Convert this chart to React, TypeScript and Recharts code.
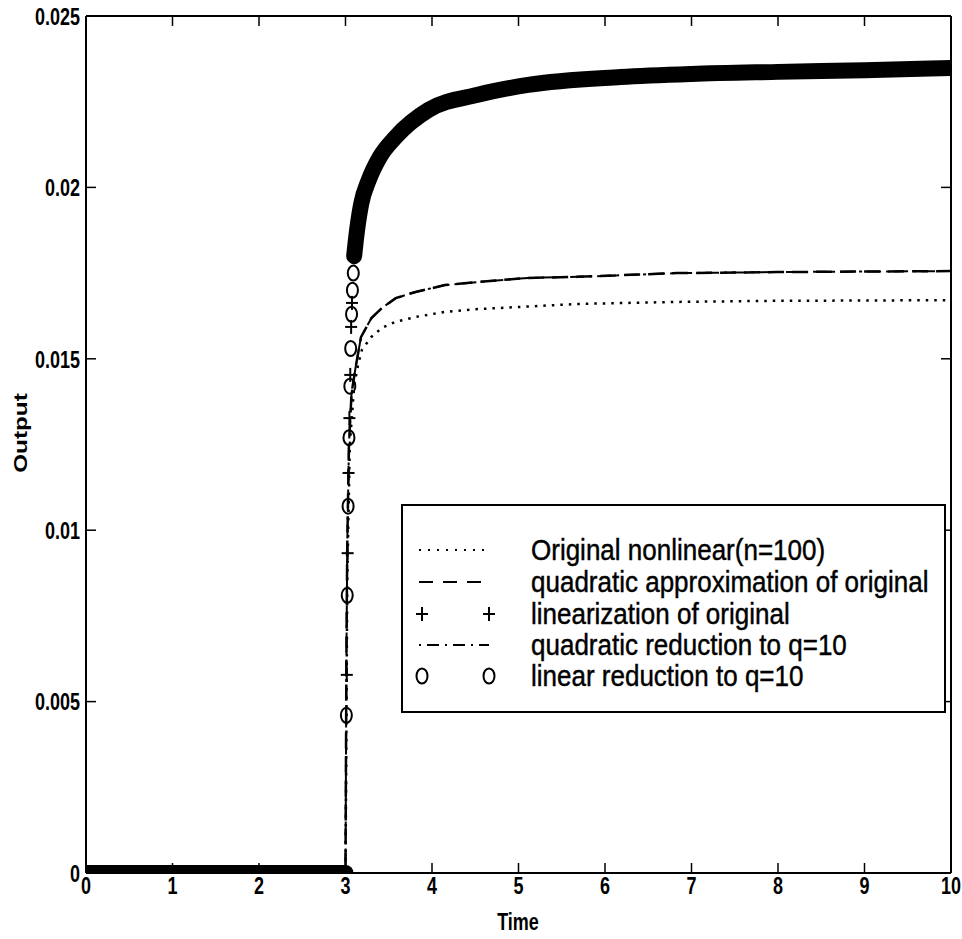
import { ComposedChart, Line, Scatter, XAxis, YAxis, Legend } from "recharts";

const FONT = "'Liberation Sans', Arial, Helvetica, sans-serif";

const TIME_TICKS = [0, 1, 2, 3, 4, 5, 6, 7, 8, 9, 10];
const OUTPUT_TICKS = [0, 0.005, 0.01, 0.015, 0.02, 0.025];

const LEGEND_LABELS = [
  "Original nonlinear(n=100)",
  "quadratic approximation of original",
  "linearization of original",
  "quadratic reduction to q=10",
  "linear reduction to q=10",
];

// Original nonlinear system (dotted)
const original = [
  { t: 0, v: 0 }, { t: 3, v: 0 }, { t: 3.01, v: 0.004 }, { t: 3.02, v: 0.0085 },
  { t: 3.05, v: 0.0125 }, { t: 3.1, v: 0.0142 }, { t: 3.15, v: 0.01488 }, { t: 3.19, v: 0.01526 },
  { t: 3.3, v: 0.01564 }, { t: 3.42, v: 0.0159 }, { t: 3.58, v: 0.01608 }, { t: 3.81, v: 0.01622 },
  { t: 4.15, v: 0.01637 }, { t: 4.53, v: 0.01645 }, { t: 5.68, v: 0.0166 }, { t: 6.84, v: 0.01666 },
  { t: 7.91, v: 0.01669 }, { t: 10, v: 0.01671 },
];

// quadratic approximation (dashed)
const quadApprox = [
  { t: 0, v: 0 }, { t: 3, v: 0 }, { t: 3.005, v: 0.003 }, { t: 3.01, v: 0.006 },
  { t: 3.02, v: 0.0095 }, { t: 3.04, v: 0.0125 }, { t: 3.07, v: 0.014 }, { t: 3.12, v: 0.0148 },
  { t: 3.18, v: 0.01564 }, { t: 3.3, v: 0.01619 }, { t: 3.42, v: 0.01648 }, { t: 3.58, v: 0.01677 },
  { t: 3.81, v: 0.01695 }, { t: 4.15, v: 0.01715 }, { t: 4.53, v: 0.01724 }, { t: 5.11, v: 0.01736 },
  { t: 5.68, v: 0.01739 }, { t: 6.84, v: 0.0175 }, { t: 7.99, v: 0.01753 }, { t: 10, v: 0.01756 },
];

// quadratic reduction q=10 (dash-dot)
const quadReduction = [
  { t: 0, v: 0 }, { t: 3, v: 0 }, { t: 3.005, v: 0.003 }, { t: 3.01, v: 0.006 },
  { t: 3.02, v: 0.0095 }, { t: 3.04, v: 0.0125 }, { t: 3.07, v: 0.014 }, { t: 3.12, v: 0.0148 },
  { t: 3.18, v: 0.01564 }, { t: 3.3, v: 0.01619 }, { t: 3.42, v: 0.01648 }, { t: 3.58, v: 0.01677 },
  { t: 3.81, v: 0.01695 }, { t: 4.15, v: 0.01715 }, { t: 4.53, v: 0.01724 }, { t: 5.11, v: 0.01736 },
  { t: 5.68, v: 0.01739 }, { t: 6.84, v: 0.0175 }, { t: 7.99, v: 0.01753 }, { t: 10, v: 0.01756 },
];

// linear reduction / linearization: markers so dense they merge into a thick band
const bandFlat = [{ t: 0, v: 0 }, { t: 3, v: 0 }];
const bandRise = [
  { t: 3.1, v: 0.018 }, { t: 3.12, v: 0.01847 }, { t: 3.18, v: 0.0195 }, { t: 3.27, v: 0.02022 },
  { t: 3.4, v: 0.0209 }, { t: 3.58, v: 0.02147 }, { t: 3.96, v: 0.02226 }, { t: 4.53, v: 0.0227 },
  { t: 5.11, v: 0.02299 }, { t: 6.18, v: 0.02322 }, { t: 7, v: 0.02331 }, { t: 8, v: 0.02337 },
  { t: 9, v: 0.02342 }, { t: 10, v: 0.02348 },
];

// separate markers on the steep rise
const linReductionRise = [
  { t: 3.01, v: 0.0046 }, { t: 3.02, v: 0.0081 }, { t: 3.03, v: 0.0107 }, { t: 3.04, v: 0.0127 },
  { t: 3.05, v: 0.0142 }, { t: 3.06, v: 0.0153 }, { t: 3.07, v: 0.0163 }, { t: 3.08, v: 0.017 },
  { t: 3.09, v: 0.0175 }, { t: 3.1, v: 0.018 },
];
const linearizationRise = [
  { t: 3.015, v: 0.00578 }, { t: 3.025, v: 0.00933 }, { t: 3.035, v: 0.01167 }, { t: 3.045, v: 0.01327 },
  { t: 3.055, v: 0.01453 }, { t: 3.065, v: 0.01593 }, { t: 3.075, v: 0.01663 },
];

const Ring = (p: any) => (
  <ellipse cx={p.cx} cy={p.cy} rx={5.5} ry={7.5} fill="none" stroke="#000" strokeWidth={2} />
);
const Plus = (p: any) => (
  <g stroke="#000" strokeWidth={2}>
    <line x1={p.cx - 6} x2={p.cx + 6} y1={p.cy} y2={p.cy} />
    <line x1={p.cx} x2={p.cx} y1={p.cy - 7} y2={p.cy + 7} />
  </g>
);

const TICK = 10;
const STRETCH = "scale(1,1.35)";

// MATLAB-style inward ticks, labels drawn tall and narrow like the scan
const BottomTick = (p: any) => (
  <g>
    <line x1={p.x} x2={p.x} y1={p.y - 3} y2={p.y - 3 - TICK} stroke="#000" strokeWidth={1.5} />
    <text transform={`translate(${p.x},${p.y}) ${STRETCH}`} textAnchor="middle" dy="0.75em"
      fontSize={18} fontWeight="bold" fontFamily={FONT} fill="#000">{p.payload.value}</text>
  </g>
);
const LeftTick = (p: any) => (
  <g>
    <line x1={p.x + 6} x2={p.x + 6 + TICK} y1={p.y} y2={p.y} stroke="#000" strokeWidth={1.5} />
    <text transform={`translate(${p.x},${p.y}) ${STRETCH}`} textAnchor="end" dy="0.36em"
      fontSize={18} fontWeight="bold" fontFamily={FONT} fill="#000">{p.payload.value}</text>
  </g>
);
const TopTick = (p: any) => (
  <line x1={p.x} x2={p.x} y1={p.y} y2={p.y + TICK} stroke="#000" strokeWidth={1.5} />
);
const RightTick = (p: any) => (
  <line x1={p.x} x2={p.x - TICK} y1={p.y} y2={p.y} stroke="#000" strokeWidth={1.5} />
);

function LegendBox() {
  const rowY = [44, 76, 108, 139, 170];
  return (
    <div style={{ width: 545, height: 209, border: "2px solid #000", background: "#fff", boxSizing: "border-box" }}>
      <svg width={541} height={205} style={{ display: "block" }}>
        <line x1={16} x2={86} y1={rowY[0]} y2={rowY[0]} stroke="#000" strokeWidth={2} strokeDasharray="2 7" />
        <line x1={16} x2={86} y1={rowY[1]} y2={rowY[1]} stroke="#000" strokeWidth={2} strokeDasharray="14 10" />
        <Plus cx={19} cy={rowY[2]} />
        <Plus cx={86} cy={rowY[2]} />
        <line x1={16} x2={86} y1={rowY[3]} y2={rowY[3]} stroke="#000" strokeWidth={2} strokeDasharray="2 6 12 6" />
        <Ring cx={19} cy={rowY[4]} />
        <Ring cx={86} cy={rowY[4]} />
        {LEGEND_LABELS.map((label, i) => (
          <text key={label} transform={`translate(128,${rowY[i]}) scale(1,1.1)`} dy="0.36em"
            fontSize={26} fontFamily={FONT} fill="#000" stroke="#000" strokeWidth={0.4}>
            {label}
          </text>
        ))}
      </svg>
    </div>
  );
}

export default function App() {
  return (
    <div style={{ position: "absolute", left: 0, top: 0, background: "#fff" }}>
      <ComposedChart width={962} height={939} margin={{ top: 15, right: 10, bottom: 0, left: 26 }}>
        <XAxis
          dataKey="t" type="number" domain={[0, 10]} ticks={TIME_TICKS} allowDataOverflow
          height={66} tickSize={0} tickMargin={3} tickLine={false}
          axisLine={{ stroke: "#000", strokeWidth: 2 }}
          tick={BottomTick}
          label={{
            content: () => (
              <text transform={`translate(518,921) ${STRETCH}`} textAnchor="middle" dy="0.36em"
                fontSize={18} fontWeight="bold" fontFamily={FONT} fill="#000">Time</text>
            ),
          }}
        />
        <XAxis
          xAxisId="top" orientation="top" dataKey="t" type="number" domain={[0, 10]} ticks={TIME_TICKS}
          allowDataOverflow height={1} tickSize={0} tickMargin={0} tickLine={false} tick={TopTick}
          axisLine={{ stroke: "#000", strokeWidth: 2 }}
        />
        <YAxis
          dataKey="v" type="number" domain={[0, 0.025]} ticks={OUTPUT_TICKS} allowDataOverflow
          width={60} tickSize={0} tickMargin={6} tickLine={false}
          axisLine={{ stroke: "#000", strokeWidth: 2 }}
          tick={LeftTick}
          label={{
            content: () => (
              <text transform="translate(21,433) rotate(-90) scale(1.35,1)" textAnchor="middle" dy="0.36em"
                fontSize={18} fontWeight="bold" fontFamily={FONT} fill="#000">Output</text>
            ),
          }}
        />
        <YAxis
          yAxisId="r" orientation="right" type="number" domain={[0, 0.025]} ticks={OUTPUT_TICKS}
          allowDataOverflow width={1} tickSize={0} tickMargin={0} tickLine={false} tick={RightTick}
          axisLine={{ stroke: "#000", strokeWidth: 2 }}
        />
        <Line data={original} dataKey="v" type="linear" stroke="#000" strokeWidth={2.5}
          strokeDasharray="2.5 6" dot={false} isAnimationActive={false} />
        <Line data={quadApprox} dataKey="v" type="linear" stroke="#000" strokeWidth={2.5}
          strokeDasharray="16 8" dot={false} isAnimationActive={false} />
        <Line data={quadReduction} dataKey="v" type="linear" stroke="#000" strokeWidth={2}
          strokeDasharray="14 5 3 5" dot={false} isAnimationActive={false} />
        <Line data={bandFlat} dataKey="v" type="linear" stroke="#000" strokeWidth={16}
          strokeLinecap="round" dot={false} isAnimationActive={false} />
        <Line data={bandRise} dataKey="v" type="monotone" stroke="#000" strokeWidth={16}
          strokeLinecap="round" dot={false} isAnimationActive={false} />
        <Scatter data={linReductionRise} dataKey="v" shape={Ring} isAnimationActive={false} />
        <Scatter data={linearizationRise} dataKey="v" shape={Plus} isAnimationActive={false} />
        <Legend
          layout="horizontal" verticalAlign="middle" align="center"
          wrapperStyle={{ position: "absolute", left: 401, top: 504, width: 545, height: 209 }}
          content={() => <LegendBox />}
        />
      </ComposedChart>
    </div>
  );
}
